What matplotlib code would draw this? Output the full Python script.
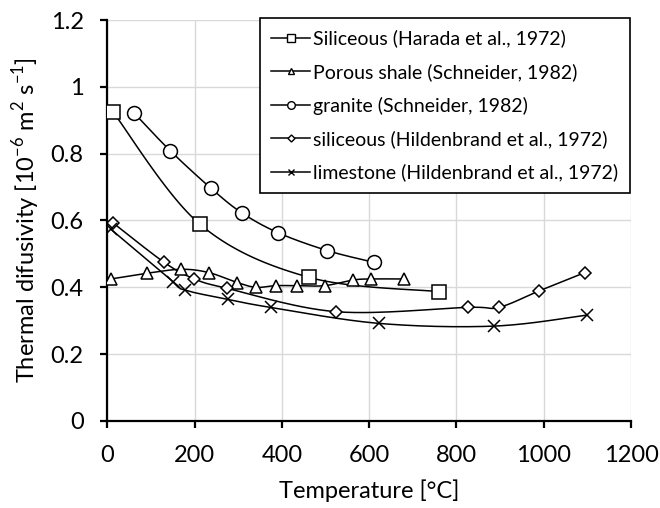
import numpy as np
import matplotlib
matplotlib.use("Agg")
import matplotlib.pyplot as plt
from matplotlib.lines import Line2D
from matplotlib.ticker import FuncFormatter

plt.rcParams['font.family'] = ['Lato', 'DejaVu Sans']

# Data
harada_x = [13, 212, 462, 760]
harada_y = [0.925, 0.589, 0.430, 0.387]

shale_x = [8, 90, 170, 233, 298, 341, 386, 435, 498, 564, 605, 681]
shale_y = [0.425, 0.442, 0.454, 0.444, 0.414, 0.400, 0.405, 0.405, 0.405, 0.422, 0.425, 0.425]

granite_x = [62, 144, 238, 308, 392, 504, 610]
granite_y = [0.921, 0.809, 0.696, 0.623, 0.563, 0.510, 0.475]

hild_sil_x = [13, 130, 198, 274, 525, 826, 897, 989, 1094]
hild_sil_y = [0.593, 0.475, 0.426, 0.397, 0.327, 0.340, 0.340, 0.389, 0.444]

lime_x = [8, 151, 177, 276, 374, 623, 887, 1100]
lime_y = [0.574, 0.417, 0.392, 0.364, 0.340, 0.292, 0.284, 0.317]

labels = ["Siliceous (Harada et al., 1972)",
          "Porous shale (Schneider, 1982)",
          "granite (Schneider, 1982)",
          "siliceous (Hildenbrand et al., 1972)",
          "limestone (Hildenbrand et al., 1972)"]


def smooth(x, y, n=30):
    # Catmull-Rom style bezier, like Excel's smoothed line
    p = np.column_stack([x, y]).astype(float)
    pts = np.vstack([p[0], p, p[-1]])
    out = []
    t = np.linspace(0, 1, n)[:, None]
    for i in range(1, len(pts) - 2):
        p0, p1, p2, p3 = pts[i - 1], pts[i], pts[i + 1], pts[i + 2]
        c1 = p1 + (p2 - p0) / 6
        c2 = p2 - (p3 - p1) / 6
        seg = ((1 - t) ** 3) * p1 + 3 * ((1 - t) ** 2) * t * c1 + 3 * (1 - t) * t ** 2 * c2 + t ** 3 * p2
        out.append(seg)
    s = np.vstack(out)
    return s[:, 0], s[:, 1]


fig = plt.figure(figsize=(6.6, 5.08), dpi=100)
ax = fig.add_axes([0.1626, 0.1713, 0.7934, 0.7893])

series = [(harada_x, harada_y, 's', 10),
          (shale_x, shale_y, '^', 9),
          (granite_x, granite_y, 'o', 10),
          (hild_sil_x, hild_sil_y, 'D', 6.5),
          (lime_x, lime_y, 'x', 9)]

handles = []
for (xs, ys, mk, ms), lab in zip(series, labels):
    sx, sy = smooth(xs, ys)
    ax.plot(sx, sy, color='black', lw=1.1, zorder=3)
    ax.plot(xs, ys, ls='none', marker=mk, ms=ms, mfc='white', mec='black',
            mew=1.1, zorder=4)
    handles.append(Line2D([0], [0], color='black', lw=1.1, marker=mk,
                          ms=ms * 0.55, mfc='white', mec='black', mew=1.0))

ax.set_xlim(0, 1200)
ax.set_ylim(0, 1.2)
ax.set_xticks(np.arange(0, 1201, 200))
ax.set_yticks(np.arange(0, 1.21, 0.2))
ax.yaxis.set_major_formatter(FuncFormatter(lambda v, p: f"{v:g}"))
ax.grid(True, color='#d9d9d9', lw=1.0)
ax.set_axisbelow(True)
for s in ['top', 'right']:
    ax.spines[s].set_visible(False)
for s in ['left', 'bottom']:
    ax.spines[s].set_linewidth(1.6)
ax.tick_params(direction='out', length=5, width=1.6, labelsize=17)
ax.tick_params(axis='x', pad=12)
ax.tick_params(axis='y', pad=12)

ax.set_xlabel("Temperature [°C]", fontsize=17, labelpad=10)
ax.set_ylabel(r"Thermal difusivity [10$^{\mathregular{-6}}$ m$^{\mathregular{2}}$ s$^{\mathregular{-1}}$]",
              fontsize=17, labelpad=6)

leg = ax.legend(handles, labels, loc='upper right', bbox_to_anchor=(0.998, 1.005),
                borderaxespad=0, fontsize=14, frameon=True, fancybox=False,
                edgecolor='black', framealpha=1, handlelength=2.0,
                handletextpad=0.15, labelspacing=0.8, borderpad=0.6)
leg.get_frame().set_linewidth(1.2)

fig.savefig("out.png", dpi=100)
